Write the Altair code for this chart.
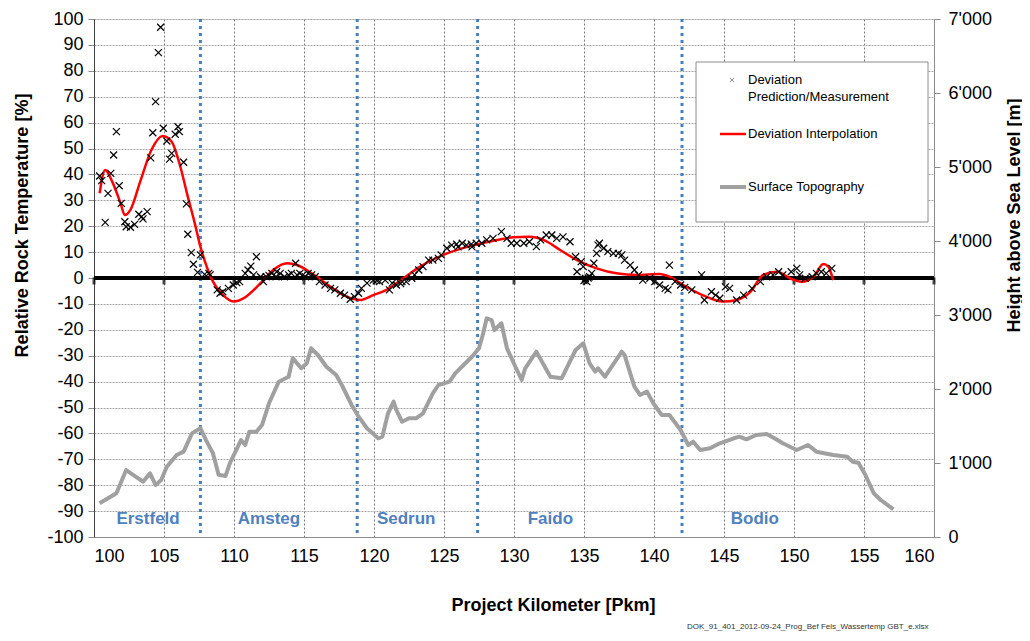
import altair as alt
import pandas as pd

# ---------------- data ----------------
dev_km = [100.4, 100.55, 100.8, 101.0, 101.2, 101.4, 101.6, 101.8, 101.95, 102.2, 102.3, 102.6,
          102.9, 103.2, 103.4, 103.5, 103.8, 104.05, 104.2, 104.4, 104.6, 104.76, 104.95, 105.2,
          105.4, 105.55, 105.8, 106.0, 106.1, 106.4, 106.6, 106.7, 106.95, 107.1, 107.4, 107.6,
          107.9, 108.2, 108.3, 108.8, 109.0, 109.2, 109.6, 109.95, 110.2, 110.4, 110.8, 111.0,
          111.2, 111.4, 111.6, 111.9, 112.1, 112.3, 112.5, 112.7, 113.0, 113.05, 113.3, 113.6,
          113.9, 114.1, 114.4, 114.5, 114.7, 114.9, 115.1, 115.3, 115.55, 115.8, 116.1, 116.5,
          116.9, 117.2, 117.6, 117.9, 118.3, 118.6, 118.9, 119.1, 119.5, 119.95, 120.2, 120.4,
          120.8, 121.1, 121.3, 121.6, 121.9, 122.0, 122.3, 122.7, 122.9, 123.2, 123.5, 123.9,
          124.2, 124.6, 124.8, 125.2, 125.55, 125.9, 126.0, 126.3, 126.6, 126.95, 127.0, 127.3,
          127.7, 128.05, 128.5, 129.1, 129.5, 129.8, 130.2, 130.7, 131.1, 131.6, 131.9, 132.3,
          132.7, 133.05, 133.5, 134.0, 134.4, 134.5, 134.8, 134.95, 135.0, 135.1, 135.2, 135.3,
          135.4, 135.55, 135.7, 135.9, 136.0, 136.1, 136.4, 136.7, 137.1, 137.45, 137.7, 137.9,
          138.3, 138.6, 138.9, 139.2, 139.7, 140.05, 140.4, 140.8, 141.0, 141.1, 141.5, 141.9,
          142.2, 142.7, 143.4, 143.6, 144.1, 144.4, 144.7, 145.1, 145.4, 145.9, 146.4, 147.0,
          147.6, 148.05, 148.5, 148.9, 149.2, 149.8, 150.2, 150.4, 150.8, 151.3, 151.6, 151.95,
          152.3, 152.7]
dev_val = [39.4, 37.6, 21.5, 32.7, 40.4, 47.5, 56.5, 35.6, 28.8, 21.7, 19.8, 19.6,
           20.7, 24.6, 23.7, 22.8, 25.6, 46.4, 56.1, 68.1, 87.0, 96.8, 57.8, 52.9,
           45.9, 48.1, 55.5, 58.4, 56.5, 44.7, 28.6, 16.9, 9.8, 5.3, 2.2, 8.9,
           1.4, 1.8, 1.2, -4.6, -5.9, -5.3, -4.0, -2.7, -1.8, -1.4, 1.8, 3.1,
           4.6, 1.2, 8.2, 0.5, -1.4, 0.5, 1.0, 1.8, 0.5, 2.4, 1.8, 0.5,
           1.2, 1.8, 5.7, 1.2, 1.8, 1.0, 0.5, 1.8, 1.2, 0.5, -1.4, -2.7,
           -4.0, -4.6, -5.9, -6.6, -8.2, -7.2, -5.9, -4.0, -2.0, -0.8, -1.0, -1.4,
           -0.8, -4.6, -2.0, -2.7, -2.2, -1.4, -1.4, -0.1, 1.2, 3.1, 4.4, 6.9,
           6.9, 7.6, 8.9, 11.5, 12.7, 13.1, 12.0, 13.4, 12.7, 13.1, 12.0, 13.4,
           13.4, 14.7, 15.3, 17.9, 15.3, 13.4, 13.4, 13.4, 14.0, 12.1, 14.7, 16.6,
           16.6, 15.3, 15.9, 14.0, 8.2, 2.4, 6.3, 4.4, -1.0, -0.1, -1.4, 0.0,
           0.5, 1.8, 5.7, 9.5, 12.7, 13.4, 11.5, 10.2, 9.5, 9.5, 8.9, 6.9,
           5.0, 3.1, 1.2, -0.8, -0.1, -1.4, -2.7, -4.0, -4.6, 5.0, -1.4, -2.7,
           -3.6, -4.6, 1.2, -8.5, -5.3, -6.6, -7.8, -3.4, -4.0, -8.5, -6.6, -4.0,
           -1.4, 0.5, 1.2, 2.4, 1.2, 2.4, 3.7, 1.2, -0.1, 0.5, 1.8, 2.4,
           1.8, 3.7]

interp_km = [100.4, 100.8, 101.3, 101.9, 102.2, 102.6, 103.3, 104.1, 104.9, 105.55, 106.1, 106.7,
             107.2, 107.6, 108.05, 108.5, 109.1, 110.0, 110.7, 111.9, 112.8, 113.8, 114.5, 115.7,
             116.9, 118.05, 119.0, 119.95, 120.9, 122.1, 123.3, 124.95, 126.9, 128.8, 129.95, 131.1,
             132.1, 133.3, 134.5, 135.9, 137.3, 138.8, 140.4, 141.1, 142.1, 143.3, 144.95, 145.9,
             146.9, 147.8, 148.8, 149.7, 150.55, 151.4, 152.1, 152.45, 152.8]
interp_val = [32.7, 41.7, 37.2, 28.8, 24.3, 26.3, 37.2, 49.4, 54.8, 52.6, 44.3, 31.4,
              21.1, 12.1, 4.4, -1.4, -5.9, -9.1, -7.8, -2.0, 3.1, 5.7, 5.0, 1.2,
              -3.4, -7.2, -8.5, -6.6, -4.6, -0.1, 4.4, 8.9, 12.4, 14.7, 15.7, 15.9,
              14.7, 10.8, 6.9, 3.7, 1.8, 1.2, 1.5, 0.5, -2.7, -6.2, -9.1, -8.5,
              -5.3, 1.2, 2.4, -0.1, -1.4, 0.5, 5.4, 4.4, -0.8]

topo_km = [100.4, 101.6, 102.3, 103.5, 104.0, 104.4, 104.8, 105.2, 105.9, 106.4, 107.0, 107.6,
           108.0, 108.5, 108.9, 109.4, 109.7, 110.5, 110.8, 111.1, 111.6, 112.0, 112.5, 113.2,
           113.9, 114.2, 114.8, 115.2, 115.5, 116.0, 116.6, 117.3, 117.7, 118.4, 118.9, 119.5,
           120.3, 120.6, 121.0, 121.4, 121.6, 122.0, 122.5, 123.0, 123.5, 124.2, 124.6, 125.4,
           125.8, 126.4, 127.0, 127.5, 127.8, 128.05, 128.4, 128.6, 129.1, 129.5, 130.1, 130.55,
           130.8, 131.6, 132.6, 133.4, 134.4, 134.95, 135.4, 135.8, 136.0, 136.5, 137.7, 137.9,
           138.6, 139.0, 139.5, 139.95, 140.55, 141.1, 141.9, 142.45, 142.8, 143.3, 144.0, 144.7,
           145.7, 146.1, 146.6, 147.3, 148.05, 148.6, 149.2, 150.2, 151.0, 151.6, 152.8, 153.8,
           154.2, 154.6, 155.1, 155.7, 156.2, 157.1]
topo_h = [455, 590, 905, 747, 860, 703, 770, 950, 1108, 1153, 1400, 1470,
          1310, 1130, 840, 825, 996, 1310, 1243, 1423, 1423, 1513, 1807, 2099,
          2166, 2415, 2280, 2347, 2550, 2459, 2301, 2189, 2054, 1784, 1626, 1469,
          1334, 1356, 1672, 1829, 1716, 1558, 1604, 1604, 1672, 1942, 2054, 2099,
          2212, 2324, 2436, 2550, 2753, 2955, 2932, 2797, 2888, 2550, 2301, 2122,
          2280, 2504, 2166, 2144, 2527, 2617, 2347, 2234, 2280, 2166, 2504, 2459,
          2031, 1919, 1964, 1807, 1649, 1649, 1446, 1243, 1288, 1176, 1199, 1266,
          1334, 1356, 1320, 1378, 1392, 1334, 1266, 1176, 1243, 1153, 1108, 1085,
          1018, 1004, 838, 590, 500, 374]

section_names = ["Erstfeld", "Amsteg", "Sedrun", "Faido", "Bodio"]
section_km = [103.86, 112.5, 122.3, 132.6, 147.2]
section_y = [-93, -93, -93, -93, -93]
boundary_km = [107.6, 118.8, 127.4, 142.0]

x_ticks = list(range(100, 161, 5))
y_ticks = list(range(-100, 101, 10))
h_ticks = list(range(0, 7001, 1000))

legend_labels = ["Deviation", "Prediction/Measurement", "Deviation Interpolation", "Surface Topography"]
footer_text = "DOK_91_401_2012-09-24_Prog_Bef Fels_Wassertemp GBT_e.xlsx"

# ---------------- frames ----------------
dev_df = pd.DataFrame({"km": dev_km, "val": dev_val})
interp_df = pd.DataFrame({"km": interp_km, "val": interp_val})
topo_df = pd.DataFrame({"km": topo_km, "h": topo_h})
sec_df = pd.DataFrame({"name": section_names, "km": section_km, "y": section_y})
bnd_df = pd.DataFrame({"km": boundary_km})
tick_df = pd.DataFrame({"km": x_ticks, "zero": [0] * len(x_ticks)})
one = pd.DataFrame({"a": [0]})

FONT = "Liberation Sans"
W, H = 840, 518

xscale = alt.Scale(domain=[100, 160], nice=False, zero=False)
yscale = alt.Scale(domain=[-100, 100], nice=False, zero=False)
hscale = alt.Scale(domain=[0, 7000], nice=False, zero=False)

xaxis = alt.Axis(values=x_ticks, title="Project Kilometer [Pkm]", grid=True, gridDash=[2, 2],
                 gridColor="#7a7a7a", gridWidth=1, ticks=False, labelPadding=10,
                 labelOverlap=False, labelExpr="'' + datum.value",
                 labelFontSize=18, labelColor="#000", labelFont=FONT,
                 titleFont=FONT, titleFontSize=18, titleFontWeight="bold", titleColor="#000",
                 titleX=459, titleY=68, titleBaseline="middle",
                 domainColor="#8c8c8c", domainWidth=1)
yaxis = alt.Axis(values=y_ticks, title="Relative Rock Temperature [%]", grid=True, gridDash=[2, 1],
                 gridColor="#a6a6a6", gridWidth=1, tickSize=6, tickColor="#8c8c8c",
                 labelOverlap=False, labelExpr="'' + datum.value",
                 labelPadding=5, labelFontSize=18, labelColor="#000", labelFont=FONT,
                 titleFont=FONT, titleFontSize=18, titleFontWeight="bold", titleColor="#000",
                 titleX=-72, titleY=206, titleBaseline="middle", titleAngle=270,
                 domainColor="#404040", domainWidth=1)
haxis = alt.Axis(values=h_ticks, title="Height above Sea Level [m]", grid=False, orient="right",
                 tickSize=6, tickColor="#8c8c8c", labelPadding=8, labelFontSize=18,
                 labelOverlap=False, labelColor="#000", labelFont=FONT,
                 labelExpr="datum.value >= 1000 ? floor(datum.value/1000) + \"'000\" : '0'",
                 titleFont=FONT, titleFontSize=18, titleFontWeight="bold", titleColor="#000",
                 titleX=80, titleY=196, titleBaseline="middle", titleAngle=270,
                 domainColor="#8c8c8c", domainWidth=1)

cross = "M-1,-1L1,1M-1,1L1,-1"

# all y encodings of the left scale use the same field name and axis
scatter = alt.Chart(dev_df).mark_point(shape=cross, size=49, filled=False, color="#000", strokeWidth=1.2, opacity=1).encode(
    x=alt.X("km:Q", scale=xscale, axis=xaxis),
    y=alt.Y("val:Q", scale=yscale, axis=yaxis)
)
boundaries = alt.Chart(bnd_df).mark_rule(color="#4a7ebb", strokeWidth=3, strokeDash=[3, 4]).encode(
    x=alt.X("km:Q", scale=xscale, axis=xaxis)
)
zero_line = alt.Chart(tick_df).mark_rule(color="#000", strokeWidth=3).encode(
    y=alt.Y("zero:Q", scale=yscale, axis=yaxis)
)
zero_ticks = alt.Chart(tick_df).mark_tick(color="#000", orient="vertical", size=7, thickness=3, yOffset=3).encode(
    x=alt.X("km:Q", scale=xscale, axis=xaxis), y=alt.Y("zero:Q", scale=yscale, axis=yaxis)
)
interp = alt.Chart(interp_df).mark_line(color="#ff0000", strokeWidth=2.5, interpolate="monotone").encode(
    x=alt.X("km:Q", scale=xscale, axis=xaxis), y=alt.Y("val:Q", scale=yscale, axis=yaxis)
)
sections = alt.Chart(sec_df).mark_text(color="#4f81bd", fontWeight="bold", fontSize=17, font=FONT, baseline="middle").encode(
    x=alt.X("km:Q", scale=xscale, axis=xaxis), y=alt.Y("y:Q", scale=yscale, axis=yaxis), text="name:N"
)

left = alt.layer(boundaries, zero_line, zero_ticks, interp, scatter, sections)

topo = alt.Chart(topo_df).mark_line(color="#a0a0a0", strokeWidth=4, strokeJoin="round").encode(
    x=alt.X("km:Q", scale=xscale, axis=xaxis), y=alt.Y("h:Q", scale=hscale, axis=haxis)
)

# ---------------- legend (drawn) ----------------
leg_box = alt.Chart(one).mark_rect(fill="#fff", stroke="#8c8c8c", strokeWidth=1).encode(
    x=alt.value(602), x2=alt.value(834), y=alt.value(43), y2=alt.value(203)
)
leg_cross = alt.Chart(one).mark_point(shape=cross, size=20, filled=False, color="#8c8c8c", strokeWidth=1, opacity=1).encode(
    x=alt.value(638), y=alt.value(61)
)
leg_red = alt.Chart(one).mark_rule(color="#ff0000", strokeWidth=2.5).encode(
    x=alt.value(626), x2=alt.value(652), y=alt.value(115)
)
leg_gray = alt.Chart(one).mark_rule(color="#a0a0a0", strokeWidth=4).encode(
    x=alt.value(626), x2=alt.value(652), y=alt.value(168)
)
leg_texts = []
for lab, yy in zip(legend_labels, [61, 78, 115, 168]):
    leg_texts.append(
        alt.Chart(one).mark_text(text=lab, align="left", baseline="middle", fontSize=13, font=FONT, color="#000").encode(
            x=alt.value(654), y=alt.value(yy)
        )
    )
footer = alt.Chart(one).mark_text(text=footer_text, align="left", baseline="bottom", fontSize=8, font=FONT, color="#333").encode(
    x=alt.value(593), y=alt.value(612)
)

chart = alt.layer(left, topo).resolve_scale(y="independent")
chart = alt.layer(chart, leg_box, leg_cross, leg_red, leg_gray, *leg_texts, footer).properties(
    width=W, height=H,
    autosize=alt.AutoSizeParams(type="none"),
    padding={"left": 86, "top": 11, "right": 88, "bottom": 96},
).configure_view(stroke="#a6a6a6", strokeWidth=1).configure_axis(labelOverlap=False).configure(font=FONT, background="white")

chart.save("out.html", embed_options={"renderer": "svg", "actions": False})
